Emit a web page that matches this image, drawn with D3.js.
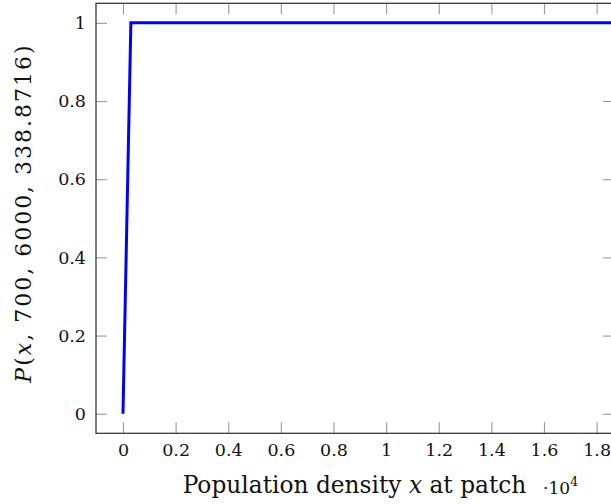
<!DOCTYPE html>
<html>
<head>
<meta charset="utf-8">
<script src="https://cdn.jsdelivr.net/npm/d3@7"></script>
<style>
  body { margin: 0; background: white; }
  svg text { font-family: "DejaVu Serif", serif; fill: #111; }
</style>
</head>
<body>
<script>
// curve P(x, 700, 6000, 338.8716)
const xValues = [0, 300, 18660];
const yValues = [0, 1, 1];
const xTicks = [0, 2000, 4000, 6000, 8000, 10000, 12000, 14000, 16000, 18000];
const yTicks = [0, 0.2, 0.4, 0.6, 0.8, 1];

function main() {
    let width = 611;
    let height = 504;
    let left = 96, right = 614, top = 3.3, bottom = 433.3;
    let tick = 11;

    let svg = d3.select("body").append("svg")
        .attr("width", width)
        .attr("height", height);

    let xScale = d3.scaleLinear().domain([-1025, 18660]).range([left, right]);
    let yScale = d3.scaleLinear().domain([-0.05, 1.05]).range([bottom, top]);

    let fmt = d => String(+d.toFixed(1));

    svg.append("defs").append("clipPath").attr("id", "plotclip")
        .append("rect")
        .attr("x", left).attr("y", top)
        .attr("width", right - left).attr("height", bottom - top);

    // ticks, pointing inwards like pgfplots
    let xb = svg.append("g")
        .attr("transform", "translate(0," + bottom + ")")
        .call(d3.axisBottom(xScale).tickValues(xTicks).tickSizeInner(-tick).tickSizeOuter(0)
            .tickPadding(10).tickFormat(d => fmt(d / 10000)));
    let xt = svg.append("g")
        .attr("transform", "translate(0," + top + ")")
        .call(d3.axisTop(xScale).tickValues(xTicks).tickSizeInner(-tick).tickSizeOuter(0).tickFormat(""));
    let yl = svg.append("g")
        .attr("transform", "translate(" + left + ",0)")
        .call(d3.axisLeft(yScale).tickValues(yTicks).tickSizeInner(-tick).tickSizeOuter(0)
            .tickPadding(10).tickFormat(fmt));
    let yr = svg.append("g")
        .attr("transform", "translate(" + right + ",0)")
        .call(d3.axisRight(yScale).tickValues(yTicks).tickSizeInner(-tick).tickSizeOuter(0).tickFormat(""));

    [xb, xt, yl, yr].forEach(g => {
        g.select(".domain").remove();
        g.selectAll(".tick line").attr("stroke", "#9a9a9a").attr("stroke-width", 1.1);
        g.selectAll(".tick text").attr("font-size", 17.5);
    });

    // frame
    svg.append("rect")
        .attr("x", left).attr("y", top)
        .attr("width", right - left).attr("height", bottom - top)
        .attr("fill", "none")
        .attr("stroke", "#3a3a3a")
        .attr("stroke-width", 1.3);

    let points = xValues.map((x, i) => [x, yValues[i]]);
    let line = d3.line().x(d => xScale(d[0])).y(d => yScale(d[1]));

    svg.append("path")
        .datum(points)
        .attr("clip-path", "url(#plotclip)")
        .attr("d", line)
        .attr("fill", "none")
        .attr("stroke", "#0000ff")
        .attr("stroke-width", 3);

    // x label
    let xl = svg.append("text")
        .attr("x", 354.5)
        .attr("y", 493)
        .attr("text-anchor", "middle")
        .attr("font-size", 23.3);
    xl.append("tspan").text("Population density ");
    xl.append("tspan").attr("font-style", "italic").text("x");
    xl.append("tspan").text(" at patch");

    // scale factor
    let sf = svg.append("text")
        .attr("x", 543)
        .attr("y", 494)
        .attr("font-size", 17);
    sf.append("tspan").text("·10");
    sf.append("tspan").attr("font-size", 13).attr("dy", -8).text("4");

    // y label
    let ylab = svg.append("text")
        .attr("transform", "translate(31,213) rotate(-90)")
        .attr("text-anchor", "middle")
        .attr("letter-spacing", 2)
        .attr("font-size", 22);
    ylab.append("tspan").attr("font-style", "italic").text("P");
    ylab.append("tspan").text("(");
    ylab.append("tspan").attr("font-style", "italic").text("x");
    ylab.append("tspan").text(", 700, 6000, 338.8716)");
}

main();
</script>
</body>
</html>
